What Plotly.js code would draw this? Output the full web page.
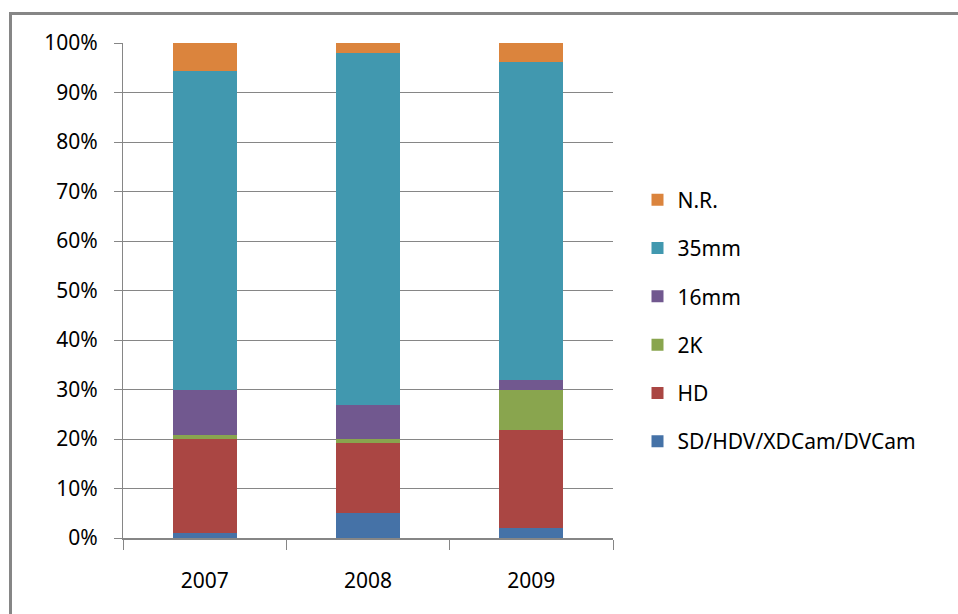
<!DOCTYPE html>
<html>
<head>
<meta charset="utf-8">
<script src="https://cdn.plot.ly/plotly-3.0.1.min.js"></script>
<style>
html,body{margin:0;padding:0;background:#fff;}
#wrap{position:relative;width:958px;height:614px;overflow:hidden;}
#frame{position:absolute;left:9px;top:12px;width:960px;height:620px;border-top:3px solid #868686;border-left:3px solid #868686;pointer-events:none;}
#chart{position:absolute;left:0;top:0;width:958px;height:614px;}
</style>
</head>
<body>
<div id="wrap">
<div id="chart"></div>
<div id="frame"></div>
</div>
<script>
const years = ["2007", "2008", "2009"];
const sdHdv = [1.0, 5.0, 2.1];
const hd = [19.0, 14.1, 19.8];
const twoK = [0.8, 0.9, 8.1];
const mm16 = [9.0, 6.9, 1.9];
const mm35 = [64.5, 71.1, 64.3];
const nr = [5.7, 2.0, 3.8];
const seriesNames = ["SD/HDV/XDCam/DVCam", "HD", "2K", "16mm", "35mm", "N.R."];
const seriesValues = [sdHdv, hd, twoK, mm16, mm35, nr];
const seriesColors = ["#4572A7", "#AA4643", "#89A54E", "#71588F", "#4198AF", "#DB843D"];

const traces = seriesNames.map((name, i) => ({
  type: "bar",
  name: name,
  x: years,
  y: seriesValues[i],
  marker: {color: seriesColors[i], line: {width: 0}},
  legendgroup: "g" + i,
  legendrank: 1000 - i,
  hoverinfo: "name+y"
}));

const fontFam = "'Noto Sans', 'Open Sans', sans-serif";
const layout = {
  width: 958,
  height: 614,
  margin: {l: 123, r: 345, t: 43, b: 76},
  paper_bgcolor: "#ffffff",
  plot_bgcolor: "#ffffff",
  barmode: "stack",
  bargap: 0.61,
  showlegend: true,
  font: {family: fontFam, size: 21, color: "#000000"},
  legend: {
    x: 1.05, xanchor: "left",
    y: 0.724, yanchor: "top",
    traceorder: "grouped",
    tracegroupgap: 18,
    font: {family: fontFam, size: 21, color: "#000000"},
    bgcolor: "rgba(0,0,0,0)"
  },
  xaxis: {
    type: "category",
    showgrid: false,
    showline: true,
    linecolor: "#868686",
    linewidth: 1.5,
    ticks: "outside",
    tickson: "boundaries",
    ticklen: 10,
    tickcolor: "#868686",
    tickwidth: 1,
    ticklabelstandoff: 23,
    tickfont: {family: fontFam, size: 21, color: "#000000"},
    fixedrange: true
  },
  yaxis: {
    range: [0, 100],
    dtick: 10,
    tick0: 0,
    ticksuffix: "%",
    showgrid: true,
    gridcolor: "#868686",
    gridwidth: 1,
    showline: true,
    linecolor: "#868686",
    linewidth: 1,
    ticks: "outside",
    ticklen: 8,
    tickcolor: "#868686",
    tickwidth: 1,
    ticklabelstandoff: 12,
    zeroline: false,
    tickfont: {family: fontFam, size: 21, color: "#000000"},
    fixedrange: true
  }
};

Plotly.newPlot("chart", traces, layout, {displayModeBar: false, staticPlot: true});
</script>
</body>
</html>
